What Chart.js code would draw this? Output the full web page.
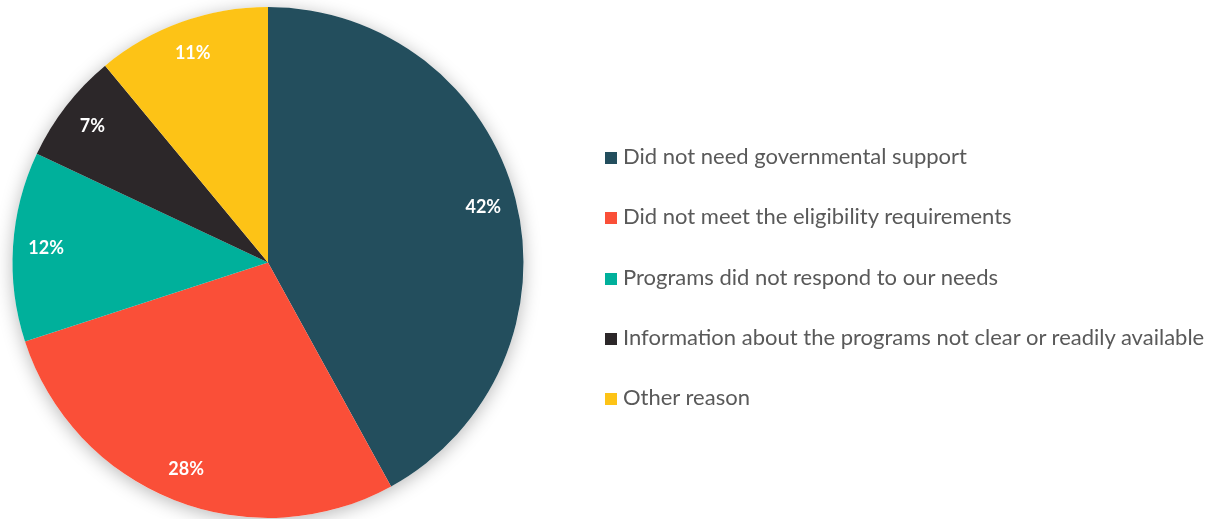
<!DOCTYPE html>
<html>
<head>
<meta charset="utf-8">
<script src="https://cdn.jsdelivr.net/npm/chart.js@4"></script>
<style>
  html, body { margin: 0; padding: 0; background: #fff; }
  #wrap { position: relative; width: 1217px; height: 519px; }
  #legend { position: absolute; left: 605px; top: 142px; margin: 0; padding: 0; list-style: none;
            font-family: Lato, sans-serif; font-size: 22px; color: #595959; }
  #legend li { height: 60.3px; line-height: 28px; white-space: nowrap; }
  #legend span.box { display: inline-block; width: 12px; height: 12px; margin-right: 6px; vertical-align: 0px; }
</style>
</head>
<body>
<div id="wrap">
  <canvas id="reasons" width="1217" height="519"></canvas>
  <ul id="legend"></ul>
</div>
<script>
const reasons = [
  'Did not need governmental support',
  'Did not meet the eligibility requirements',
  'Programs did not respond to our needs',
  'Information about the programs not clear or readily available',
  'Other reason'
];
const shares = [42, 28, 12, 7, 11];
const colors = ['#234e5d', '#fa4f38', '#00b09b', '#2c2729', '#fdc316'];

// soft shadow under the whole pie, drawn once before the slices
const pieShadow = {
  id: 'pieShadow',
  beforeDatasetsDraw(chart) {
    const arc = chart.getDatasetMeta(0).data[0];
    const c = chart.ctx;
    c.save();
    c.shadowColor = 'rgba(0,0,0,0.28)';
    c.shadowBlur = 18;
    c.shadowOffsetY = 3;
    c.fillStyle = '#fff';
    c.beginPath();
    c.arc(arc.x, arc.y, arc.outerRadius, 0, Math.PI * 2);
    c.fill();
    c.restore();
  }
};

// percentage labels inside each slice
const sliceLabels = {
  id: 'sliceLabels',
  afterDatasetsDraw(chart) {
    const c = chart.ctx;
    const meta = chart.getDatasetMeta(0);
    c.save();
    c.fillStyle = '#fff';
    c.font = 'bold 18px Lato, sans-serif';
    c.textAlign = 'center';
    c.textBaseline = 'middle';
    meta.data.forEach((a, i) => {
      const mid = (a.startAngle + a.endAngle) / 2;
      const r = a.outerRadius * 0.87;
      c.fillText(shares[i] + '%', a.x + Math.cos(mid) * r, a.y + Math.sin(mid) * r);
    });
    c.restore();
  }
};

const chart = new Chart(document.getElementById('reasons'), {
  type: 'pie',
  data: {
    labels: reasons,
    datasets: [{
      data: shares,
      backgroundColor: colors,
      borderWidth: 0
    }]
  },
  options: {
    responsive: false,
    animation: false,
    layout: { padding: { left: 12, top: 7, bottom: 1, right: 693 } },
    plugins: {
      legend: { display: false },
      tooltip: { enabled: false }
    }
  },
  plugins: [pieShadow, sliceLabels]
});

const ul = document.getElementById('legend');
reasons.forEach((name, i) => {
  const li = document.createElement('li');
  const box = document.createElement('span');
  box.className = 'box';
  box.style.background = colors[i];
  li.appendChild(box);
  li.appendChild(document.createTextNode(name));
  ul.appendChild(li);
});
</script>
</body>
</html>
